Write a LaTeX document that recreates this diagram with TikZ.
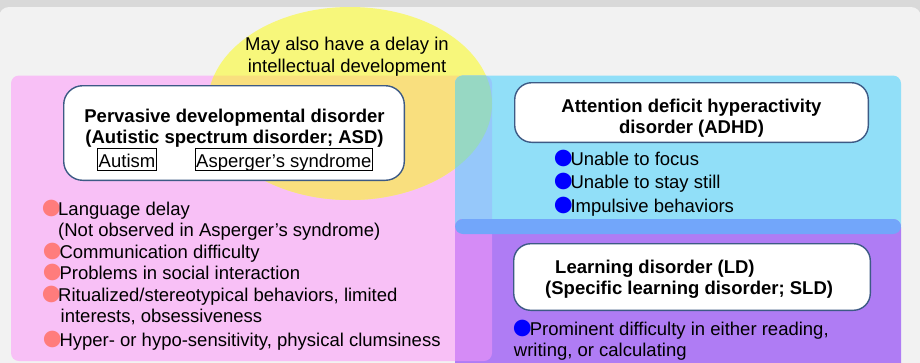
\documentclass[tikz,border=0pt]{standalone}
\usepackage{fontspec}
\setmainfont{Liberation Sans}
\newfontfamily\cjk{Noto Sans CJK JP}
\usepackage{xcolor}
\usepackage{tikz}

\definecolor{backgray}{HTML}{D9D9D9}
\definecolor{panelgray}{HTML}{F2F2F2}
\definecolor{pdpink}{HTML}{F8C0F6}
\definecolor{idyellow}{HTML}{F7F77B}
\definecolor{idorange}{HTML}{F9DF7E}
\definecolor{adblue}{HTML}{91DFF8}
\definecolor{adgreen}{HTML}{97D8C3}
\definecolor{adlightblue}{HTML}{96C8FA}
\definecolor{ldpurple}{HTML}{AF7CF4}
\definecolor{ldpink}{HTML}{D58BF6}
\definecolor{ldband}{HTML}{72A6FA}
\definecolor{boxline}{HTML}{3D5A85}
\definecolor{dotpink}{HTML}{FF7C7C}
\definecolor{dotblue}{HTML}{0000FF}

\newcommand{\pinkdot}{{\cjk\textcolor{dotpink}{●}}\hspace{-2.5pt}}
\newcommand{\bluedot}{{\cjk\textcolor{dotblue}{●}}\hspace{-2.5pt}}

% areas
\newcommand{\pinkarea}{(11,75.5) rectangle (492,361)}
\newcommand{\bluearea}{(455,75.5) rectangle (901,234)}
\newcommand{\purplearea}{(455,219) rectangle (901,380)}
\newcommand{\ovalarea}{(350,103.5) ellipse [x radius=142, y radius=96.5]}

\begin{document}
\begin{tikzpicture}[x=1pt,y=-1pt,
  area/.style={rounded corners=8pt},
  rbox/.style={draw=boxline,line width=1.4pt,fill=white},
  title/.style={font=\bfseries\fontsize{18.5}{21}\selectfont,align=center,inner sep=0pt},
  txt/.style={font=\fontsize{18.5}{22}\selectfont,inner sep=0pt,anchor=base west},
  subbox/.style={draw=black,line width=1.3pt,font=\fontsize{18.5}{22}\selectfont,inner xsep=1pt,inner ysep=0pt,
    text height=16.6pt,text depth=0pt,minimum height=21.8pt}]
        \useasboundingbox (0,0) rectangle (920,362);
        \fill[backgray] (0,0) rectangle (920,362);
        \fill[panelgray,rounded corners=10pt] (-1,7) rectangle (921,400);
        % pink and yellow
        \fill[pdpink,area] \pinkarea;
        \fill[idyellow] \ovalarea;
        \begin{scope}
          \clip[area] \pinkarea;
          \fill[idorange] \ovalarea;
        \end{scope}
        % blue
        \fill[adblue,area] \bluearea;
        \begin{scope}
          \clip[area] \bluearea;
          \fill[adlightblue,area] \pinkarea;
          \fill[adgreen] \ovalarea;
        \end{scope}
        % purple
        \fill[ldpurple,area] \purplearea;
        \begin{scope}
          \clip[area] \purplearea;
          \fill[ldpink,area] \pinkarea;
          \fill[ldband,area] \bluearea;
        \end{scope}

        \node[font=\fontsize{18.5}{22}\selectfont,align=center,inner sep=0pt] (idtext) at (347,56.9)
          {May also have a delay in\\intellectual development};

        % boxes
        \node[rbox,rounded corners=19pt,minimum width=340.6pt,minimum height=94.6pt] (pdd) at (234,133) {};
        \node[title] (pddtitle) at (234.5,128.4) {Pervasive developmental disorder\\(Autistic spectrum disorder; ASD)};
        \node[subbox] (autism) at (127,159.4) {Autism};
        \node[subbox] (asperger) at (283.8,159.4) {Asperger’s syndrome};

        \node[rbox,rounded corners=17pt,minimum width=353.6pt,minimum height=59.6pt] (adhd) at (691.5,112.5) {};
        \node[title] (adhdtitle) at (691.5,118.4) {Attention deficit hyperactivity\\disorder (ADHD)};

        \node[rbox,rounded corners=17pt,minimum width=356.6pt,minimum height=66.6pt] (ld) at (692,277) {};
        \node[title,align=left,anchor=west] (ldtitle) at (545,279.4) {\hspace*{10pt}Learning disorder (LD)\\(Specific learning disorder; SLD)};

        % lists
        \node[txt] (pdd1) at (42,215) {\pinkdot Language delay};
        \node[txt] (pdd2) at (58,236.5) {(Not observed in Asperger’s syndrome)};
        \node[txt] (pdd3) at (43.3,258.3) {\pinkdot Communication difficulty};
        \node[txt] (pdd4) at (43.3,279.3) {\pinkdot Problems in social interaction};
        \node[txt] (pdd5) at (42,301.7) {\pinkdot Ritualized/stereotypical behaviors, limited};
        \node[txt] (pdd6) at (60.5,322.7) {interests, obsessiveness};
        \node[txt] (pdd7) at (43.3,346) {\pinkdot Hyper- or hypo-sensitivity, physical clumsiness};

        \node[txt] (adhd1) at (554.3,165) {\bluedot Unable to focus};
        \node[txt] (adhd2) at (554.3,188.3) {\bluedot Unable to stay still};
        \node[txt] (adhd3) at (554.3,212.3) {\bluedot Impulsive behaviors};

        \node[txt] (ld1) at (513.6,335) {\bluedot Prominent difficulty in either reading,};
        \node[txt] (ld2) at (513.7,356.7) {writing, or calculating};
      \end{tikzpicture}
\end{document}
